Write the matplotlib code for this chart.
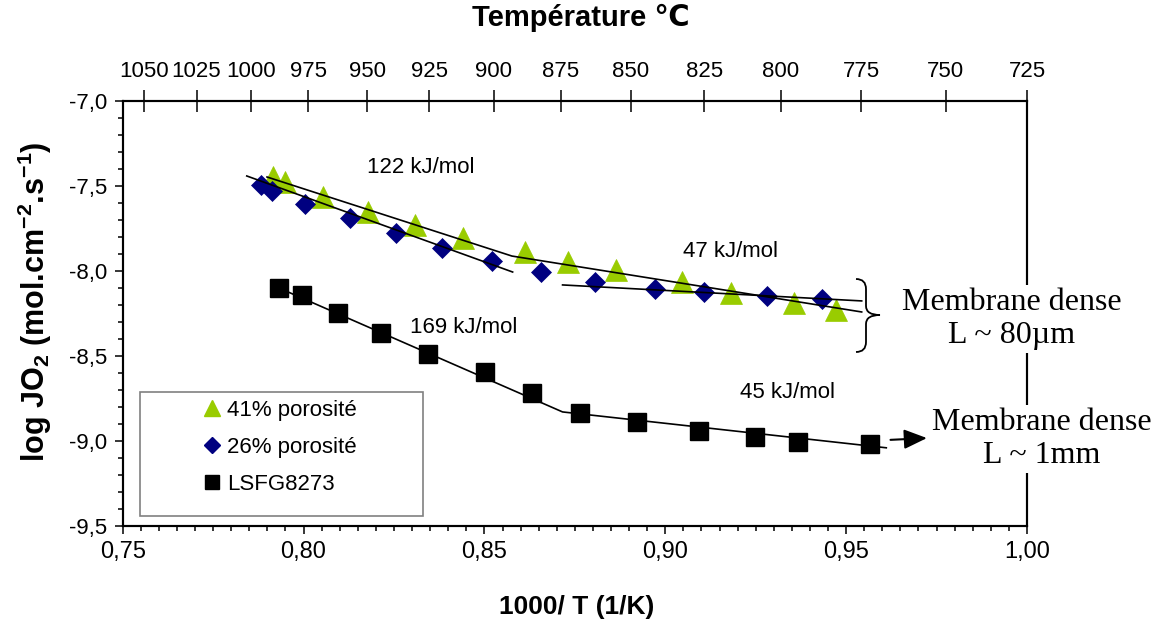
import numpy as np
import matplotlib
matplotlib.use('Agg')
import matplotlib.pyplot as plt
import matplotlib.transforms as mtransforms
from matplotlib.path import Path
from matplotlib.patches import PathPatch, Rectangle
from matplotlib.lines import Line2D
from matplotlib.ticker import MultipleLocator, FuncFormatter

plt.rcParams['font.family'] = ['Liberation Sans', 'DejaVu Sans']
plt.rcParams['mathtext.fontset'] = 'custom'
plt.rcParams['mathtext.rm'] = 'Liberation Sans'
plt.rcParams['mathtext.bf'] = 'Liberation Sans:bold'

# 41% porosite (triangles)
x41 = [0.7915, 0.7948, 0.8053, 0.8178, 0.8307, 0.8440, 0.8611, 0.8730, 0.8865, 0.9045, 0.9183, 0.9357, 0.9473]
y41 = [-7.447, -7.476, -7.565, -7.653, -7.729, -7.806, -7.888, -7.947, -7.994, -8.065, -8.129, -8.188, -8.229]

# 26% porosite (diamonds)
x26 = [0.7882, 0.7912, 0.8004, 0.8128, 0.8255, 0.8382, 0.8520, 0.8656, 0.8805, 0.8971, 0.9106, 0.9280, 0.9434]
y26 = [-7.494, -7.529, -7.606, -7.688, -7.776, -7.865, -7.941, -8.006, -8.065, -8.106, -8.124, -8.147, -8.165]

# LSFG8273 (squares)
x_lsfg = [0.7932, 0.7995, 0.8094, 0.8213, 0.8343, 0.8501, 0.8631, 0.8763, 0.8921, 0.9092, 0.9247, 0.9366, 0.9565]
y_lsfg = [-8.100, -8.141, -8.247, -8.365, -8.488, -8.594, -8.718, -8.835, -8.888, -8.941, -8.976, -9.006, -9.018]

# fit lines
fit41_x = [0.7899, 0.8576, 0.9543]
fit41_y = [-7.447, -7.912, -8.241]
fit26a_x = [0.7843, 0.8578]
fit26a_y = [-7.441, -8.006]
fit26b_x = [0.8716, 0.9543]
fit26b_y = [-8.082, -8.176]
fitlsfg_x = [0.7932, 0.8716, 0.9611]
fitlsfg_y = [-8.100, -8.829, -9.040]

temp_ticks = [1050, 1025, 1000, 975, 950, 925, 900, 875, 850, 825, 800, 775, 750, 725]

labels = ['41% porosité', '26% porosité', 'LSFG8273']

W, H = 1162, 626
fig = plt.figure(figsize=(W / 100, H / 100), dpi=100)
ax = fig.add_axes([122.7 / W, 1 - 526 / H, (1027 - 122.7) / W, (526 - 101) / H])

green = '#99CC00'
navy = '#000080'

ax.plot(x41, y41, '^', color=green, ms=16, mec=green, mew=0.5, zorder=2)
ax.plot(x26, y26, 'D', color=navy, ms=10.5, mec=navy, mew=0.5, zorder=2)
ax.plot(x_lsfg, y_lsfg, 's', color='black', ms=13, zorder=2)

for fx, fy in [(fit41_x, fit41_y), (fit26a_x, fit26a_y), (fit26b_x, fit26b_y), (fitlsfg_x, fitlsfg_y)]:
    ax.plot(fx, fy, '-', color='black', lw=1.2, zorder=3)

ax.set_xlim(0.75, 1.00)
ax.set_ylim(-9.5, -7.0)
ax.xaxis.set_major_locator(MultipleLocator(0.05))
ax.xaxis.set_minor_locator(MultipleLocator(0.005))
ax.yaxis.set_major_locator(MultipleLocator(0.5))
ax.yaxis.set_minor_locator(MultipleLocator(0.1))
ax.xaxis.set_major_formatter(FuncFormatter(lambda v, p: f'{v:.2f}'.replace('.', ',')))
ax.yaxis.set_major_formatter(FuncFormatter(lambda v, p: f'{v:.1f}'.replace('.', ',')))
ax.tick_params(axis='both', which='major', direction='out', length=6, width=1.1, labelsize=16)
ax.tick_params(axis='both', which='minor', direction='out', length=3.6, width=1.1)
ax.tick_params(axis='x', which='major', pad=5, labelsize=17)
ax.tick_params(axis='y', which='major', pad=5)
ax.tick_params(top=False, right=False, which='both')
for s in ax.spines.values():
    s.set_linewidth(1.5)

# top temperature axis
ax2 = ax.twiny()
ax2.set_xlim(ax.get_xlim())
ax2.set_xticks(np.minimum(1000.0 / (np.array(temp_ticks) + 273.0), 1.0))
ax2.set_xticklabels([str(t) for t in temp_ticks])
ax2.tick_params(axis='x', direction='inout', length=16, width=1.1, labelsize=16, pad=6)
for s in ax2.spines.values():
    s.set_linewidth(1.5)

fig.text(581 / W, 1 - 18 / H, 'Température ℃', ha='center', va='center',
         fontsize=21, fontweight='bold', family=['Liberation Sans', 'DejaVu Sans'])
fig.text(577 / W, 1 - 607 / H, '1000/ T (1/K)', ha='center', va='center',
         fontsize=19, fontweight='bold')
fig.text(35 / W, 1 - 302 / H, r'log JO$_\mathbf{2}$ (mol.cm$^\mathbf{-2}$.s$^\mathbf{-1}$)',
         rotation=90, ha='center', va='center', fontsize=22, fontweight='bold')

# activation energies
ax.text(0.8175, -7.394, '122 kJ/mol', fontsize=16, va='center')
ax.text(0.9048, -7.888, '47 kJ/mol', fontsize=16, va='center')
ax.text(0.8294, -8.335, '169 kJ/mol', fontsize=16, va='center')
ax.text(0.9206, -8.712, '45 kJ/mol', fontsize=16, va='center')

# legend
ax.add_patch(Rectangle((0.0191, 0.0235), 0.313, 0.292, transform=ax.transAxes,
                       facecolor='white', edgecolor='#808080', lw=1.2, zorder=4))
handles = [Line2D([], [], ls='none', marker='^', color=green, ms=12),
           Line2D([], [], ls='none', marker='D', color=navy, ms=8),
           Line2D([], [], ls='none', marker='s', color='black', ms=10)]
leg = ax.legend(handles, labels, loc='upper left', bbox_to_anchor=(0.0888, 0.2976),
                frameon=False, fontsize=16, handlelength=0.8, handletextpad=0.3,
                borderpad=0, borderaxespad=0, labelspacing=0.72, numpoints=1)
leg.set_zorder(5)

# notes on the right
tr_px = mtransforms.Affine2D().scale(1 / W, -1 / H).translate(0, 1) + fig.transFigure
fig.text(1012 / W, 1 - 319 / H, 'Membrane dense\nL ~ 80µm', ha='center', va='center',
         fontsize=23, family='Liberation Serif', linespacing=1.15,
         bbox=dict(facecolor='white', edgecolor='none', pad=2))
fig.text(1042 / W, 1 - 439 / H, 'Membrane dense\nL ~ 1mm', ha='center', va='center',
         fontsize=23, family='Liberation Serif', linespacing=1.15,
         bbox=dict(facecolor='white', edgecolor='none', pad=2))

brace = Path([(856, 279), (866, 279), (866, 289), (866, 306), (866, 315), (880, 315),
              (866, 315), (866, 324), (866, 342), (866, 352), (856, 352)],
             [Path.MOVETO, Path.CURVE3, Path.CURVE3, Path.LINETO, Path.CURVE3, Path.CURVE3,
              Path.CURVE3, Path.CURVE3, Path.LINETO, Path.CURVE3, Path.CURVE3])
fig.patches.append(PathPatch(brace, transform=tr_px, facecolor='none', edgecolor='black', lw=1.3))

ax.annotate('', xy=(0.9731, -8.982), xytext=(0.9615, -8.994),
            arrowprops=dict(arrowstyle='-|>,head_length=0.7,head_width=0.3',
                            color='black', lw=1.5, mutation_scale=20))

fig.savefig('out.png', dpi=100)
